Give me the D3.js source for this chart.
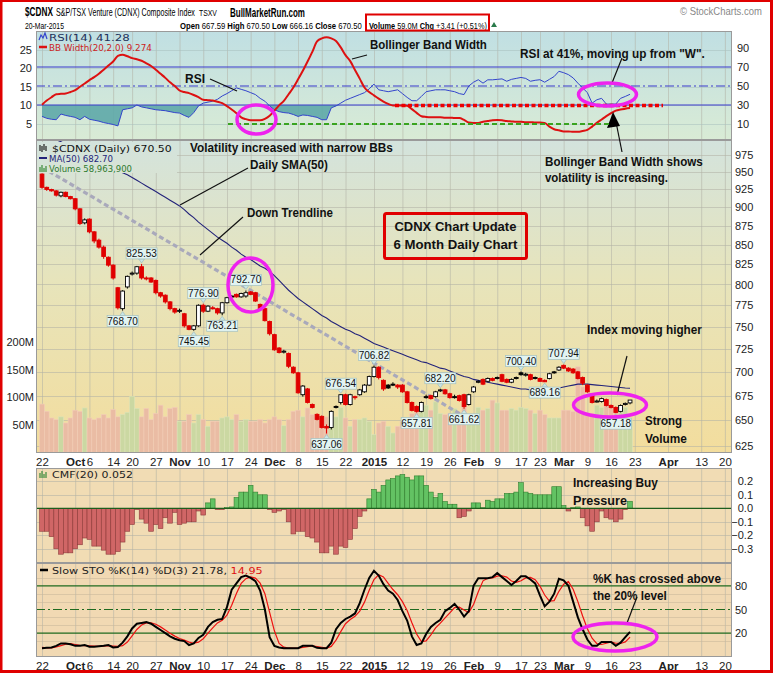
<!DOCTYPE html>
<html><head><meta charset="utf-8"><title>CDNX</title>
<script src="https://cdn.jsdelivr.net/npm/d3@7/dist/d3.min.js"></script>
<style>html,body{margin:0;padding:0;background:#fff}svg{display:block}</style>
</head><body>
<svg id="chart" width="773" height="673"></svg>
<script>
// ---------- DATA ----------
const startDate = "2014-09-22", endDate = "2015-04-24";
const holidays = ["2014-10-13","2014-12-25","2014-12-26","2015-01-01","2015-02-16","2015-04-03"];

const open = [947,928,925,923,916,921,915,912,898,879,884,867,856,847,834,824,796,771,797,813,
814,822,808,808,805,790,787,779,771,768,765,751,747,751,775,768,772,771,766,778,
786,788,785,786,791,790,776,771,756,741,726,722,720,705,699,676,682,666,656,654,
644,643,664,668,676,666,674,676,679,686,695,705,691,686,687,686,686,679,668,664,
659,674,675,674,680,681,677,674,675,676,666,679,689,692,690,693,694,697,692,689,
694,699,697,697,694,693,691,693,700,702,707,704,703,700,694,686,676,669,669,671,
665,663,659,666,667.59];
const high = [948,929,926,924,922,922,916,913,899,885,885,868,858,849,835,825,797,793,811,816,
823,825.53,810,809,806,791,788,780,772,771,766,752,752,776,776.90,775,774,772,779,785,
787,789,790,792.70,792,791,777,772,757,742,727,724,721,706,700,686,683,667,657,655,
646,660,665,676.54,677,677,675,682,687,696,706.82,706,692,687,689,687,687,680,669,665,
669,676,676,680,682.20,682,678,676,676,677,677,685,691,693,694,694,695,698,693,693,
695,700.40,699,698,695,694,692,699,701,706,707.94,705,704,701,695,687,677,671,673,672,
666,664,666,668,670.50];
const low = [926,923,922,915,914,914,911,896,876,877,865,852,845,832,822,806,770,768.70,795,811,
812,806,805,802,788,784,777,769,765,766,749,746,745.45,750,766,767,770,764,763.21,777,
784,784,784,784,787,779,770,756,740,723,720,720,704,698,677,674,667,662,650,642,
637.06,641,662,666,665,665,671,675,678,685,694,692,680,682,685,682,678,667,659,657.81,
658,672,671,673,679,676,672,672,669,661.62,665,678,688,686,689,690,692,689,688,688,
692,696,695,691,692,689.5,689.16,692,698,701,703,700,698,692,686,678,667,668,668,664,
662,657.18,658,665,666.16];
const close = [928,925,923,917,921,915,912,898,878,883,867,855,847,835,824,808,772,792,810,814,
822,808,807,803,790,786,779,771,767,769,751,747,751,775,768,774,771,766,778,784,
786,785,789,790,788,780,771,757,742,724,721,722.5,706,699,678,685,668,663,651,643,
642.5,659,664,676,666,676,673,681,686,695,705,694,682,683,687,684,679,668,660,659,
668,674,672,679,681,677,673,674,670,664,676,684,690,687,693,691,694,690,689,692,
694,697,697.5,692,694,690,689.5,698,700,705,704,701,699,693,688,679,668,669.5,672,665,
663,658,665,667.09,670.50];
// volume in millions of shares
const volume = [88,75,63,60,65,54,63,77,75,81,63,60,63,69,63,78,65,69,73,102,
80,65,80,60,71,86,65,80,82,57,57,69,54,69,60,48,57,57,63,65,
60,69,57,60,57,57,60,54,60,65,60,49,60,75,77,65,81,69,65,65,
65,75,65,82,63,48,60,60,63,57,33,54,57,48,36,48,57,60,71,75,
90,86,77,92,71,69,71,80,69,86,60,60,82,77,80,95,90,77,77,80,
77,82,80,77,71,77,69,63,63,63,77,77,75,155,119,71,71,86,82,86,
86,75,77,82,59];
const ma50 = [1012,1008,1003,998,995,991,988,984,981,977,974,970,967,963,960,956,952,949,946,942,
938,934,930,926,922,918,914,910,906,902,897,891,886,880,875,870,865,860,856,852,
847,843,838,834,831,827,823,820,816,811,805,799,793,788,783,779,775,771,767,763,
760,756,753,750,747,745,742,740,737,734,731,729,727,725,723,721,719,717,715,713,
711,710,708,706,704,703,701,699,697,695,694,692,691,690,689,688,687,686,685,684,
683,682,682,681,681,681,681,681,682,683,684,685,686,687,687,687,686.5,686,685.5,685,
684.5,684,683.5,683,682.7];
const rsi = [18,16,15,14.5,20.5,19,18,17,14.5,18,15,14,13,11.5,10.5,9.5,8,25,26,27,
30,28,27,26,25,24.5,24,23,22,21.5,19,17,22,29,32,33,34,36,39.5,42,
45,48,46.5,45,43,41,37,34,29,25,23,22,21.5,20,18,19.5,19,18,17,14.5,
14.5,27,29,32,35,37,39,41,43,47,52,46,45,44,45,46,42,38,34.5,34.5,
39,44,45,46,46,46,45,44,42,41,50,54,56.6,53,56.5,56.5,57,57.5,55,57,
58,59,58,55,56,56.6,54,57,60,65.5,64,62,58.5,53,48,43,32,35.5,37,31,
31,31,37,39,41.28];
const bbWidth = [10.2,11.3,12.2,13,13.1,13.2,13.6,14.1,15,15.9,16.8,17.6,18.5,19.6,20.7,21.8,23.3,23.6,23.2,22.7,
22.4,22,21.3,20.6,19.6,18.5,17.4,16.2,15.2,14,13.6,13.3,12.8,12.2,11.5,11.4,11.3,11,10.6,9.8,
8.9,7.9,6.8,6.3,6,6,6,6.4,7.2,8.6,10,11.2,13,14.8,17,19.3,21.8,24.4,27.2,28,
28.3,28,27.3,25.6,23.5,21.9,19.5,17.2,14.8,13.6,12.7,11.8,11,10.4,10,10,10,9.9,9,8,
7.1,6.9,6.8,6.8,6.8,6.7,6.7,6.6,6.6,6.1,5.4,5.3,5.3,5.6,5.8,6,6.1,6,5.8,5.7,
5.6,5.6,5.5,5.5,5.4,5.4,5.3,4.3,3.6,3.3,3.0,3.0,2.9,2.9,3.1,3.4,4.3,5.3,6.2,7.1,
7.9,8.6,8.9,9.1,9.274];
const cmf = [-0.17,-0.17,-0.21,-0.30,-0.34,-0.33,-0.33,-0.30,-0.27,-0.22,-0.23,-0.28,-0.28,-0.31,-0.34,-0.34,-0.32,-0.25,-0.17,-0.12,
-0.01,-0.08,-0.11,-0.17,-0.12,-0.15,-0.07,-0.11,-0.03,-0.12,-0.11,-0.10,-0.10,-0.02,-0.05,0.04,0.07,-0.01,-0.01,0.005,
0.01,0.08,0.12,0.12,0.17,0.12,0.10,0.10,-0.01,-0.03,-0.02,-0.01,-0.10,-0.19,-0.17,-0.17,-0.21,-0.22,-0.25,-0.33,
-0.33,-0.28,-0.34,-0.28,-0.29,-0.23,-0.15,-0.06,-0.02,0.07,0.14,0.12,0.17,0.21,0.22,0.24,0.25,0.23,0.21,0.24,
0.24,0.17,0.12,0.08,0.11,0.05,0.03,0.03,-0.07,-0.06,-0.02,0.04,0.04,0.005,0.06,0.05,0.07,0.07,0.11,0.11,
0.12,0.19,0.12,0.11,0.10,0.10,0.10,0.10,0.16,0.16,0.02,-0.02,0.005,0.01,-0.07,-0.13,-0.17,-0.10,-0.02,-0.07,
-0.08,-0.10,-0.08,-0.01,0.052];
const stoK = [1,1.5,2,4,7,7,6,4,4,5,3,3,3.5,4,5,2,2.5,8,16,26,
32,33,34,32,28,24,20,16,13,11,10,5,7,14,18,28,34,37,38,53,
75,83,91,93,90,86,74,50,15,4,2,1,1,1,1,4,4,4,1.5,1,
1,8,25,33,38,41,45,58,75,90,99,93,82,74,70,62,48,36,16,5,
7,19,28,33,37,48,52,57,50,41,48,80,89.5,89.5,89.5,91,96,91,86,81,
86,92,92,88,83,68,54,60,70,89,87,80,60,40,25,12,4,4,9,9,
9,4,8,15,21.78];
const stoD = [2,1.5,1.5,2.5,4.3,6,6.7,5.7,4.7,4.3,4,3.7,3.2,3.5,4.2,3.7,3.2,4.2,8.8,16.7,
24.7,30.3,33,33,31.3,28,24,20,16.3,13.3,11.3,8.7,7.3,8.7,13,20,26.7,33,36.3,42.7,
55.3,70.3,83,89,91.3,89.7,83.3,70,46.3,23,7,2.3,1.3,1,1,2,3,4,3.2,2.2,
1.2,3.3,11.3,22,32,37.3,41.3,48,59.3,74.3,88,94,91.3,83,75.3,68.7,60,48.7,33.3,19,
9.3,10.3,18,26.7,32.7,39.3,45.7,52.3,53,49.3,46.3,56.3,72.5,86.3,89.5,90,92.2,92.7,91,86,
84.3,86.3,90,90.7,87.7,79.7,68.3,60.7,61.3,73,82,85.3,75.7,60,41.7,25.7,13.7,6.7,5.7,7.3,
9,7.3,7,9,14.95];

const tickDates = ["2014-09-22","2014-10-01","2014-10-06","2014-10-14","2014-10-20","2014-10-27","2014-11-03","2014-11-10","2014-11-17","2014-11-24",
"2014-12-01","2014-12-08","2014-12-15","2014-12-22","2015-01-02","2015-01-12","2015-01-19","2015-01-26","2015-02-02","2015-02-09",
"2015-02-17","2015-02-23","2015-03-02","2015-03-09","2015-03-16","2015-03-23","2015-04-01","2015-04-13","2015-04-20"];
const tickLabels = ["22","Oct","6","14","20","27","Nov","10","17","24","Dec","8","15","22","2015","12","19","26","Feb","9","17","23","Mar","9","16","23","Apr","13","20"];
const boldTicks = ["Oct","Nov","Dec","2015","Feb","Mar","Apr"];

const priceTicks = [975,950,925,900,875,850,825,800,775,750,725,700,675,650,625];
const volTicks = [50,100,150,200];
const bbTicks = [5,10,15,20,25];
const rsiTicks = [10,30,50,70,90];
const cmfTicks = [0.2,0.1,0.0,-0.1,-0.2,-0.3];
const stoTicks = [20,50,80];

// price labels on swing points: [candle index, "high"|"low"]
const swingLabels = [[21,"high"],[17,"low"],[34,"high"],[38,"low"],[32,"low"],[43,"high"],[60,"low"],[63,"high"],
[70,"high"],[79,"low"],[84,"high"],[89,"low"],[101,"high"],[106,"low"],[110,"high"],[121,"low"]];
// down trendline anchors [index, price]
const trendline = [[0,957],[90.3,650.5]];

// ---------- LAYOUT ----------
const L = 36, R = 732;
const P = {rsi:[31,140], main:[140,453], cmf:[468,563], sto:[563,657]};
const svg = d3.select("#chart");
const defs = svg.append("defs");
const fmt = d3.timeFormat("%Y-%m-%d"), parse = d3.timeParse("%Y-%m-%d");
const days = d3.timeDay.range(parse(startDate), d3.timeDay.offset(parse(endDate),1))
  .filter(d => d.getDay()%6 !== 0 && !holidays.includes(fmt(d))).map(fmt);
const n = close.length;

const x = d3.scaleLinear().domain([-1.265, 145.5]).range([L, R]);
const yP = d3.scaleLog().domain([618.4, 997.6]).range([P.main[1], P.main[0]]);
const yV = d3.scaleLinear().domain([0, 563]).range([P.main[1], P.main[0]]);
const yR = d3.scaleLinear().domain([0, 100]).range([133.5, 38.5]);
const yB = d3.scaleLinear().domain([0, 25]).range([142.6, 49.6]);
const yC = d3.scaleLinear().domain([0, 0.2]).range([508.3, 481.3]);
const yS = d3.scaleLinear().domain([0, 100]).range([649, 570]);
const tickIdx = tickDates.map(d => days.indexOf(d));

function grad(id, stops, y1, y2){
  const g = defs.append("linearGradient").attr("id",id).attr("gradientUnits","userSpaceOnUse")
    .attr("x1",0).attr("x2",0).attr("y1",y1).attr("y2",y2);
  stops.forEach(s => g.append("stop").attr("offset",s[0]).attr("stop-color",s[1]));
}
grad("gMain", [[0,"#d3e3dd"],[0.45,"#e7e4bb"],[1,"#f3dd9d"]], P.main[0], P.main[1]);
grad("gRsi", [[0,"#c0dfe3"],[1,"#d9ebd5"]], P.rsi[0], P.rsi[1]);
function clip(id, y0, y1){
  defs.append("clipPath").attr("id",id).append("rect").attr("x",L).attr("y",y0).attr("width",R-L).attr("height",y1-y0);
}
clip("cR", ...P.rsi); clip("cM", ...P.main); clip("cC", ...P.cmf); clip("cS", ...P.sto);

const FONT = "Liberation Sans, Arial, sans-serif";
const LEG = "DejaVu Sans, Verdana, sans-serif";

function panel(ys, fill, clipId){
  const g = svg.append("g").attr("clip-path", `url(#${clipId})`);
  g.append("rect").attr("x",L).attr("y",ys[0]).attr("width",R-L).attr("height",ys[1]-ys[0]).attr("fill",fill);
  g.append("g").selectAll("line").data(tickIdx).join("line")
    .attr("x1",d=>x(d)+0.5).attr("x2",d=>x(d)+0.5).attr("y1",ys[0]).attr("y2",ys[1])
    .attr("stroke","#b3b3a6").attr("stroke-width",0.8).attr("opacity",0.7);
  return g;
}
function hgrid(g, vals, sc, color){
  g.append("g").selectAll("line").data(vals).join("line")
    .attr("x1",L).attr("x2",R).attr("y1",d=>Math.round(sc(d))+0.5).attr("y2",d=>Math.round(sc(d))+0.5)
    .attr("stroke",color||"#b3b3a6").attr("stroke-width",0.8).attr("opacity",0.7);
}
function styleAxis(g, size){
  g.select(".domain").remove();
  g.selectAll("text").attr("font-family",FONT).attr("font-size",size||11).attr("fill","#222");
}

// ---------- RSI / BB PANEL ----------
const gR = panel(P.rsi, "url(#gRsi)", "cR");
hgrid(gR, bbTicks, yB, "#a9c2bf");
gR.append("path").datum(rsi)
  .attr("d", d3.area().x((d,i)=>x(i)).y0(yR(30)).y1(d=>yR(Math.min(d,30))))
  .attr("fill","#5ea8a8").attr("opacity",0.9);
[70,30].forEach(v => gR.append("line").attr("x1",L).attr("x2",R).attr("y1",yR(v)).attr("y2",yR(v)).attr("stroke","#3a3acb").attr("stroke-width",1.2));
gR.append("line").attr("x1",L).attr("x2",R).attr("y1",yR(50)).attr("y2",yR(50)).attr("stroke","#3a3acb").attr("stroke-width",1.2).attr("stroke-dasharray","9,3,2,3");
gR.append("path").datum(rsi).attr("d", d3.line().x((d,i)=>x(i)).y(d=>yR(d)))
  .attr("fill","none").attr("stroke","#3344cc").attr("stroke-width",1);
gR.append("path").datum(bbWidth).attr("d", d3.line().curve(d3.curveMonotoneX).x((d,i)=>x(i)).y(d=>yB(d)))
  .attr("fill","none").attr("stroke","#dd1111").attr("stroke-width",2);
styleAxis(svg.append("g").attr("transform",`translate(${L},0)`).call(d3.axisLeft(yB).tickValues(bbTicks).tickSize(0).tickPadding(4)));
styleAxis(svg.append("g").attr("transform",`translate(${R},0)`).call(d3.axisRight(yR).tickValues(rsiTicks).tickSize(0).tickPadding(5)));

// ---------- MAIN PANEL ----------
const gM = panel(P.main, "url(#gMain)", "cM");
hgrid(gM, priceTicks, yP);
gM.append("g").selectAll("rect").data(volume).join("rect")
  .attr("x",(d,i)=>x(i)-2.37).attr("width",4.74)
  .attr("y",d=>yV(d)).attr("height",d=>yV(0)-yV(d))
  .attr("fill",(d,i)=> i>0 && close[i]>=close[i-1] ? "#cbd8a2" : "#eabca4")
  .attr("stroke",(d,i)=> i>0 && close[i]>=close[i-1] ? "#dbe3b8" : "#f2cdb8").attr("stroke-width",0.6);
gM.append("line").attr("x1",x(trendline[0][0])).attr("y1",yP(trendline[0][1]))
  .attr("x2",x(trendline[1][0])).attr("y2",yP(trendline[1][1]))
  .attr("stroke","#a9a9bb").attr("stroke-width",3.2).attr("stroke-dasharray","5,3");
gM.append("path").datum(ma50).attr("d", d3.line().x((d,i)=>x(i)).y(d=>yP(d)))
  .attr("fill","none").attr("stroke","#23237a").attr("stroke-width",1.1);
// legend backdrop (MA and trendline pass behind the legend)
gM.append("rect").attr("x",L+1).attr("y",142).attr("width",140).attr("height",31).attr("fill","url(#gMain)");
const cg = gM.append("g").selectAll("g").data(d3.range(n)).join("g");
const cCol = i => (i>0 && close[i]>=close[i-1]) ? "#000" : "#e00000";
cg.append("line").attr("x1",i=>x(i)).attr("x2",i=>x(i)).attr("y1",i=>yP(high[i])).attr("y2",i=>yP(low[i]))
  .attr("stroke",cCol).attr("stroke-width",1);
cg.append("rect").attr("x",i=>x(i)-1.9).attr("width",3.8)
  .attr("y",i=>yP(Math.max(open[i],close[i])))
  .attr("height",i=>Math.max(yP(Math.min(open[i],close[i]))-yP(Math.max(open[i],close[i])),1))
  .attr("fill",i=> close[i]>open[i] ? "#fff" : cCol(i)).attr("stroke",cCol).attr("stroke-width",0.9);
swingLabels.forEach(([i,pos])=>{
  const v = pos==="high" ? high[i] : low[i];
  const cx = x(i), yv = yP(v), bw = 31, bh = 11;
  const by = pos==="high" ? yv-5-bh : yv+5;
  const tip = pos==="high" ? [[cx-3,by+bh],[cx+3,by+bh],[cx,yv-1]] : [[cx-3,by],[cx+3,by],[cx,yv+1]];
  svg.append("polygon").attr("points",tip.map(p=>p.join(",")).join(" ")).attr("fill","#c9e6e6").attr("stroke","#9fbcbc").attr("stroke-width",0.7);
  svg.append("rect").attr("x",cx-bw/2).attr("y",by).attr("width",bw).attr("height",bh).attr("fill","#e2f4f2").attr("stroke","#a3c0c0").attr("stroke-width",0.7);
  svg.append("text").attr("x",cx).attr("y",by+9).attr("text-anchor","middle").attr("font-family",FONT).attr("font-size",10).attr("fill","#111").text(v.toFixed(2));
});
styleAxis(svg.append("g").attr("transform",`translate(${R},0)`).call(d3.axisRight(yP).tickValues(priceTicks).tickFormat(d3.format("d")).tickSize(0).tickPadding(3)));
styleAxis(svg.append("g").attr("transform",`translate(${L},0)`).call(d3.axisLeft(yV).tickValues(volTicks).tickFormat(d=>d+"M").tickSize(0).tickPadding(2)));
function xAxis(yPos){
  const g = svg.append("g").attr("transform",`translate(0,${yPos})`)
    .call(d3.axisBottom(x).tickValues(tickIdx).tickFormat((d,i)=>tickLabels[i]).tickSize(0).tickPadding(5));
  styleAxis(g, 11.5);
  g.selectAll("text").attr("font-weight",(d,i)=> boldTicks.includes(tickLabels[i]) ? "bold" : "normal");
}
xAxis(P.main[1]);

// ---------- CMF PANEL ----------
const gC = panel(P.cmf, "#f1dcb4", "cC");
hgrid(gC, [0.2,0.1,-0.1,-0.2,-0.3], yC);
gC.append("g").selectAll("rect").data(cmf).join("rect")
  .attr("x",(d,i)=>x(i)-2.37).attr("width",4.74)
  .attr("y",d=>Math.min(yC(d),yC(0))).attr("height",d=>Math.abs(yC(d)-yC(0)))
  .attr("fill",d=>d>=0?"#63c263":"#d06666").attr("stroke",d=>d>=0?"#2f7f2f":"#8d3a3a").attr("stroke-width",0.6);
gC.append("line").attr("x1",L).attr("x2",R).attr("y1",yC(0)).attr("y2",yC(0)).attr("stroke","#1d5e1d").attr("stroke-width",1.2);
styleAxis(svg.append("g").attr("transform",`translate(753,0)`).call(d3.axisLeft(yC).tickValues(cmfTicks).tickFormat(d3.format(".1f")).tickSize(0).tickPadding(0)));

// ---------- STO PANEL ----------
const gS = panel(P.sto, "#f1d9b3", "cS");
hgrid(gS, [10,30,40,60,70,90], yS, "#c9b79a");
[80,20].forEach(v=> gS.append("line").attr("x1",L).attr("x2",R).attr("y1",yS(v)).attr("y2",yS(v)).attr("stroke","#1f6a1f").attr("stroke-width",1.2));
gS.append("line").attr("x1",L).attr("x2",R).attr("y1",yS(50)).attr("y2",yS(50)).attr("stroke","#1f6a1f").attr("stroke-width",1.2).attr("stroke-dasharray","9,3,2,3");
gS.append("path").datum(stoD).attr("d", d3.line().x((d,i)=>x(i)).y(d=>yS(d))).attr("fill","none").attr("stroke","#ee1111").attr("stroke-width",1.2);
gS.append("path").datum(stoK).attr("d", d3.line().x((d,i)=>x(i)).y(d=>yS(d))).attr("fill","none").attr("stroke","#000").attr("stroke-width",2);
styleAxis(svg.append("g").attr("transform",`translate(${R},0)`).call(d3.axisRight(yS).tickValues(stoTicks).tickSize(0).tickPadding(3)));
xAxis(P.sto[1]);

[P.rsi,P.main,P.cmf,P.sto].forEach(p => svg.append("rect").attr("x",L+0.5).attr("y",p[0]+0.5).attr("width",R-L-1).attr("height",p[1]-p[0]-1)
  .attr("fill","none").attr("stroke","#9a9a9a").attr("stroke-width",1));

// ---------- TEXT HELPERS ----------
// condensed text: natural glyphs scaled horizontally to the width seen in the reference
function ctxt(xp, yp, parts, size, len, opt){
  opt = opt || {};
  const g = svg.append("g");
  const t = g.append("text").attr("x",0).attr("y",0).attr("font-family",opt.font||FONT).attr("font-size",size)
    .attr("fill",opt.fill||"#000");
  if (typeof parts === "string") parts = [[parts, opt.bold?1:0, opt.fill||"#000"]];
  parts.forEach(p => t.append("tspan").attr("font-weight",p[1]?"bold":"normal").attr("fill",p[2]||opt.fill||"#000").text(p[0]));
  const w = t.node().getComputedTextLength();
  const k = len / w;
  const x0 = opt.anchor === "middle" ? xp - len/2 : xp;
  g.attr("transform",`translate(${x0},${yp}) scale(${k},1)`);
  return g;
}

// ---------- LEGENDS ----------
svg.append("path").attr("d","M39,40 L41,35 L43,38 L45,33 L47,39").attr("fill","none").attr("stroke","#3344cc").attr("stroke-width",1.2);
svg.append("line").attr("x1",39).attr("x2",47).attr("y1",47).attr("y2",47).attr("stroke","#dd1111").attr("stroke-width",2.5);
ctxt(49,40.5,[["RSI(14) 41.28",0,"#22305a"]],8.5,81,{font:LEG});
ctxt(49,51,[["BB Width(20,2.0) 9.274",0,"#cc2222"]],8.5,103,{font:LEG});
svg.append("path").attr("d","M40,145 V151 M42,146 V152 M44,144 V150 M46,146 V151").attr("stroke","#222").attr("stroke-width",1.2);
svg.append("line").attr("x1",39).attr("x2",47).attr("y1",158).attr("y2",158).attr("stroke","#23237a").attr("stroke-width",2);
svg.append("path").attr("d","M40,172 V167 M42,172 V165 M44,172 V168 M46,172 V166").attr("stroke","#3a8a3a").attr("stroke-width",1.2);
ctxt(52,151.5,[["$CDNX (Daily) 670.50",0,"#111"]],8.5,120,{font:LEG});
ctxt(49,161.8,[["MA(50) 682.70",0,"#23237a"]],8.5,64,{font:LEG});
ctxt(49,172,[["Volume 58,963,900",0,"#2e7a2e"]],8.5,83,{font:LEG});
svg.append("path").attr("d","M40,478 V473 M42,478 V471 M44,478 V474 M46,478 V472").attr("stroke","#3a8a3a").attr("stroke-width",1.2);
ctxt(52,478,[["CMF(20) 0.052",0,"#222"]],8.5,81,{font:LEG});
svg.append("line").attr("x1",40).attr("x2",48).attr("y1",570).attr("y2",570).attr("stroke","#000").attr("stroke-width",2.5);
ctxt(52,574,[["Slow STO %K(14) %D(3) 21.78, ",0,"#222"],["14.95",0,"#dd1111"]],8.5,211,{font:LEG});

// ---------- HEADER ----------
ctxt(25,16,"$CDNX",13,28,{bold:true});
ctxt(56,16,"S&P/TSX Venture (CDNX) Composite Index",10.5,139);
ctxt(199,16,"TSXV",8.5,18);
ctxt(230,16.5,"BullMarketRun.com",12.5,75,{bold:true});
ctxt(680,15,"© StockCharts.com",10.5,82,{fill:"#888"});
ctxt(25,28.5,"20-Mar-2015",9.5,39);
ctxt(180,28.5,[["Open ",1],["667.59 ",0],["High ",1],["670.50 ",0],["Low ",1],["666.16 ",0],["Close ",1],["670.50",0]],9.5,182);
ctxt(369,28.5,[["Volume ",1],["59.0M ",0],["Chg ",1],["+3.41 (+0.51%)",0]],9.5,118);
svg.append("rect").attr("x",366).attr("y",14.5).attr("width",123).attr("height",16).attr("fill","none").attr("stroke","#e00000").attr("stroke-width",2);
svg.append("polygon").attr("points","491,27 497,27 494,22").attr("fill","#2a7a4a");

// ---------- ANNOTATIONS ----------
const notes = [
  [190,152,"Volatility increased with narrow BBs",203],
  [250,169,"Daily SMA(50)",78],
  [247,217,"Down Trendline",86],
  [370,49,"Bollinger Band Width",117],
  [185,83,"RSI",20],
  [520,58,"RSI at 41%, moving up from \"W\".",185],
  [545,166,"Bollinger Band Width shows",158],
  [545,182,"volatility is increasing.",123],
  [587,334,"Index moving higher",115],
  [645,425,"Strong",37],
  [645,443,"Volume",42],
  [573,487,"Increasing Buy",85],
  [573,505,"Pressure",54],
  [593,583,"%K has crossed above",128],
  [593,600,"the 20% level",74]
];
notes.forEach(d => ctxt(d[0],d[1],d[2],12.5,d[3],{bold:true,fill:"#111"}));
const leaders = [[180,205,248,168],[200,255,243,217],[352,59,367,55],[210,79,237,91],[612,83,622,58],[617,395,627,356],[627,623,637,597],[616,122,622,152]];
leaders.forEach(l => svg.append("line").attr("x1",l[0]).attr("y1",l[1]).attr("x2",l[2]).attr("y2",l[3]).attr("stroke","#111").attr("stroke-width",1.2));
svg.append("polygon").attr("points","613,112 607,128 620,126").attr("fill","#000");
svg.append("line").attr("x1",395).attr("x2",663).attr("y1",yB(10)).attr("y2",yB(10)).attr("stroke","#ee0000").attr("stroke-width",3.5).attr("stroke-dasharray","4,2.5");
svg.append("line").attr("x1",228).attr("x2",610).attr("y1",yB(5)).attr("y2",yB(5)).attr("stroke","#39a320").attr("stroke-width",2).attr("stroke-dasharray","5,3");
[[256.5,119.5,19.5,14.5],[607.5,94.5,29,11.5],[250.5,285,22.5,27],[610,405,36.5,12],[615,637,42,14]]
  .forEach(e => svg.append("ellipse").attr("cx",e[0]).attr("cy",e[1]).attr("rx",e[2]).attr("ry",e[3])
    .attr("fill","none").attr("stroke","#ee22ee").attr("stroke-width",3.5));
svg.append("rect").attr("x",384.5).attr("y",213.5).attr("width",142).attr("height",45).attr("rx",2).attr("fill","none").attr("stroke","#e00000").attr("stroke-width",3);
ctxt(455.5,231,"CDNX Chart Update",13.5,122,{bold:true,anchor:"middle",fill:"#111"});
ctxt(455.5,249,"6 Month Daily Chart",13.5,124,{bold:true,anchor:"middle",fill:"#111"});

svg.append("rect").attr("x",1).attr("y",0.5).attr("width",770.5).attr("height",671).attr("fill","none").attr("stroke","#e00000").attr("stroke-width",3);
</script>
</body></html>
